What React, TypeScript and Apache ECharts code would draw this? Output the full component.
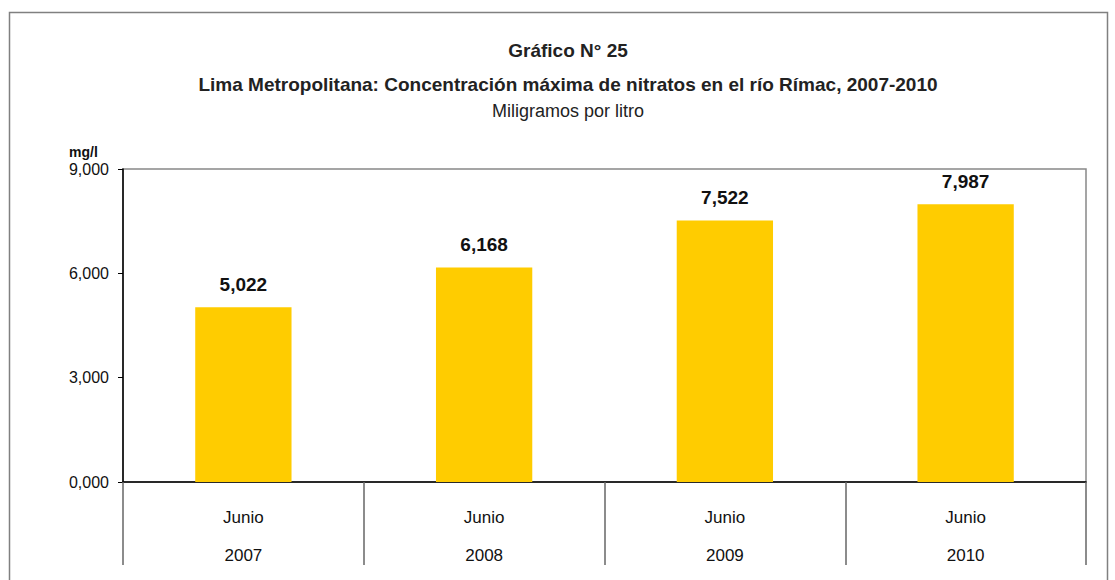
import React, { useEffect, useRef } from "react";
import * as echarts from "echarts";

const categories = ["2007", "2008", "2009", "2010"];
const months = ["Junio", "Junio", "Junio", "Junio"];
const values = [5022, 6168, 7522, 7987];
const yTickLabels: Record<number, string> = { 0: "0,000", 3000: "3,000", 6000: "6,000", 9000: "9,000" };

const FONT = "'Liberation Sans Narrow', 'Arial Narrow', 'Liberation Sans', Arial, sans-serif";

export default function App() {
  const ref = useRef<HTMLDivElement>(null);
  useEffect(() => {
    if (!ref.current) return;
    const chart = echarts.init(ref.current, null, { renderer: "svg" });
    chart.setOption({
      animation: false,
      backgroundColor: "#ffffff",
      textStyle: { fontFamily: FONT },
      graphic: [
        {
          type: "rect",
          shape: { x: 9.5, y: 12.5, width: 1098, height: 600 },
          style: { fill: "none", stroke: "#808080", lineWidth: 1.5 },
          silent: true,
        },
        {
          type: "text",
          x: 568, y: 50,
          style: { text: "Gráfico N° 25", font: `bold 19px ${FONT}`, fill: "#222", align: "center", verticalAlign: "middle" },
        },
        {
          type: "text",
          x: 568, y: 84,
          style: { text: "Lima Metropolitana: Concentración máxima de nitratos en el río Rímac, 2007-2010", font: `bold 19px ${FONT}`, fill: "#222", align: "center", verticalAlign: "middle" },
        },
        {
          type: "text",
          x: 568, y: 111,
          style: { text: "Miligramos por litro", font: `18px ${FONT}`, fill: "#222", align: "center", verticalAlign: "middle" },
        },
        {
          type: "text",
          x: 69, y: 152,
          style: { text: "mg/l", font: `bold 14px ${FONT}`, fill: "#111", verticalAlign: "middle" },
        },
      ],
      grid: {
        left: 123, right: 29, top: 169, bottom: 98,
        show: true, borderColor: "#888", borderWidth: 1.5, backgroundColor: "transparent",
      },
      xAxis: {
        type: "category",
        data: categories,
        axisLine: { lineStyle: { color: "#000", width: 1.5 } },
        axisTick: { show: true, length: 83, lineStyle: { color: "#666", width: 1.5 } },
        axisLabel: {
          interval: 0,
          margin: 16,
          formatter: (v: string, i: number) => `${months[i]}\n${v}`,
          lineHeight: 38,
          fontSize: 17,
          color: "#111",
          fontFamily: FONT,
        },
      },
      yAxis: {
        type: "value",
        min: 0, max: 9000, interval: 3000,
        axisLine: { show: true, lineStyle: { color: "#000", width: 1.5 } },
        axisTick: { show: true, length: 5, lineStyle: { color: "#000" } },
        splitLine: { show: false },
        axisLabel: {
          formatter: (v: number) => yTickLabels[v] ?? String(v),
          fontSize: 16, color: "#111", margin: 14, fontFamily: FONT,
        },
      },
      series: [
        {
          type: "bar",
          data: values,
          barWidth: "40%",
          itemStyle: { color: "#FFCC00" },
          label: {
            show: true,
            position: "top",
            distance: 13,
            formatter: (p: any) => p.value.toLocaleString("en-US"),
            fontSize: 19, fontWeight: "bold", color: "#111", fontFamily: FONT,
          },
        },
      ],
    });
    return () => chart.dispose();
  }, []);
  return <div ref={ref} style={{ position: "absolute", left: 0, top: 0, width: 1115, height: 580 }} />;
}
